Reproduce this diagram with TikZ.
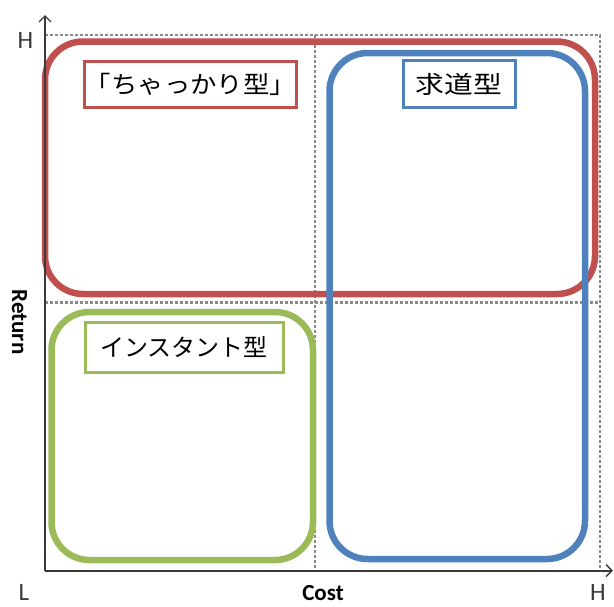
\documentclass[tikz,border=0pt]{standalone}
\usepackage{fontspec}
\setmainfont{Carlito}
\newfontfamily\jpfont{Noto Sans CJK JP}
\usetikzlibrary{arrows.meta}
\definecolor{cred}{HTML}{C0504D}
\definecolor{cblue}{HTML}{4F81BD}
\definecolor{cgreen}{HTML}{9BBB59}
\definecolor{cgrid}{HTML}{8A8A8A}
\definecolor{caxis}{HTML}{3A3A3A}
\tikzset{
  gridline/.style={draw=cgrid, line width=2.4pt, dash pattern=on 3pt off 2pt},
  bigbox/.style={draw, rectangle, rounded corners=38pt, line width=6.5pt, inner sep=0pt},
  labelbox/.style={draw, rectangle, line width=3pt, fill=white, inner sep=0pt, font=\jpfont\fontsize{24}{26}\selectfont},
  axisline/.style={draw=caxis, line width=1.6pt, -{Straight Barb[length=6pt,width=12pt,line width=1.4pt]}},
  axlabel/.style={font=\bfseries\fontsize{23}{25}\selectfont, text=black, inner sep=0pt},
  endlabel/.style={font=\fontsize{25}{27}\selectfont, text=caxis, inner sep=0pt}
}
\begin{document}
\begin{tikzpicture}[x=1pt,y=-1pt]
\useasboundingbox (0,0) rectangle (614,606);
% grid coordinates
\coordinate (O) at (45,570.7);
\coordinate (ytip) at (45,15);
\coordinate (xtip) at (613,570.7);
\coordinate (tl) at (45,35);
\coordinate (tr) at (600,35);
\coordinate (br) at (600,570.7);
\coordinate (mt) at (315,35);
\coordinate (mb) at (315,570.7);
\coordinate (ml) at (45,302.5);
\coordinate (mr) at (600,302.5);
% dashed grid
\draw[gridline] (tl) -- (tr) -- (br);
\draw[gridline] (mt) -- (mb);
\draw[gridline] (ml) -- (mr);
% big boxes
\node[bigbox, draw=cred, minimum width=550pt, minimum height=252.5pt] (redbox) at (320,167.75) {};
\node[bigbox, draw=cblue, minimum width=255.5pt, minimum height=506pt] (bluebox) at (457.25,306) {};
\node[bigbox, draw=cgreen, minimum width=261.5pt, minimum height=248pt] (greenbox) at (182.25,436) {};
% label boxes
\node[labelbox, draw=cred, minimum width=205pt, minimum height=46pt] (redlab) at (190.5,84.5) {\scalebox{1.1}[1]{「ちゃっかり型」}};
\node[labelbox, draw=cblue, minimum width=112pt, minimum height=47pt] (bluelab) at (459,84) {\scalebox{1.2}[1]{求道型}};
\node[labelbox, draw=cgreen, minimum width=198pt, minimum height=50pt] (greenlab) at (184,347.5) {インスタント型};
% axes
\draw[axisline] (O) -- (ytip);
\draw[axisline] (O) -- (xtip);
% labels
\node[axlabel, rotate=-90] (ret) at (19.5,322) {Return};
\node[axlabel] (cost) at (323,593.5) {Cost};
\node[endlabel] (hy) at (25.5,40) {H};
\node[endlabel] (lo) at (24,592.5) {L};
\node[endlabel] (hx) at (598,592.5) {H};
\end{tikzpicture}
\end{document}
